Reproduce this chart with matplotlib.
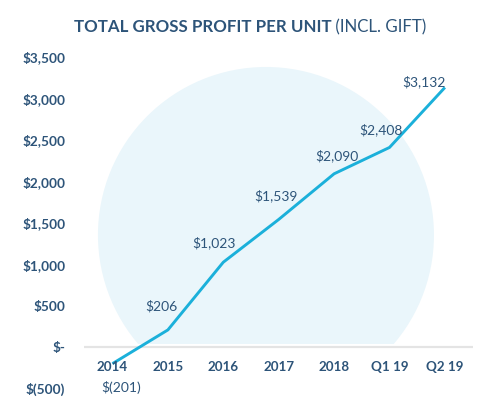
import matplotlib
matplotlib.use("Agg")
import matplotlib.pyplot as plt
from matplotlib.patches import Ellipse, Rectangle
from matplotlib.ticker import FuncFormatter
import matplotlib.transforms as mtransforms

categories = ["2014", "2015", "2016", "2017", "2018", "Q1 19", "Q2 19"]
values = [-201, 206, 1023, 1539, 2090, 2408, 3132]
title_bold = "TOTAL GROSS PROFIT PER UNIT"
title_light = " (INCL. GIFT)"

NAVY = "#2D5479"
LINE = "#1BB0DA"
CIRCLE = "#EAF6FB"
FONT = "Lato"

# label offsets in points (style only)
offsets = [(6, -17), (-5, 17), (-7, 14), (-2, 17), (2, 13), (-6, 13), (-15, 4)]


def money(v, pos=None):
    if v == 0:
        return "$-"
    if v < 0:
        return "$({:,.0f})".format(-v)
    return "${:,.0f}".format(v)


fig = plt.figure(figsize=(5.0, 4.15), dpi=100)
ax = fig.add_axes([0.168, 0.0441, 0.778, 0.8386])
x = list(range(len(categories)))
ax.set_xlim(-0.514, 6.507)
ax.set_ylim(-600, 3600)

# background circle (decoration), clipped at zero line
circ = Ellipse((2.77, 1352), width=6.065, height=4055, facecolor=CIRCLE,
               edgecolor="none", zorder=0)
ax.add_patch(circ)
clip = Rectangle((-1, 40), 10, 5000, transform=ax.transData)
circ.set_clip_path(clip)

ax.axhline(0, color="#E4E4E4", lw=1.6, zorder=1)
ax.plot(x, values, color=LINE, lw=2.1, zorder=3, solid_capstyle="butt")

for xi, v, off in zip(x, values, offsets):
    ax.annotate(money(v), (xi, v), xytext=off, textcoords="offset points",
                ha="center", va="center", color=NAVY, fontsize=10,
                family=FONT, zorder=4)

# category labels
for xi, c in zip(x, categories):
    ax.text(xi, -240, c, ha="center", va="center", color=NAVY, fontsize=9.6,
            fontweight="bold", family=FONT)

ax.yaxis.set_major_formatter(FuncFormatter(money))
ax.set_yticks(range(-500, 3501, 500))
ax.tick_params(axis="y", length=0, pad=13.5, labelcolor=NAVY, labelsize=9.8)
for lbl in ax.get_yticklabels():
    lbl.set_fontweight("bold")
    lbl.set_family(FONT)
ax.set_xticks([])
for s in ax.spines.values():
    s.set_visible(False)
ax.patch.set_alpha(0)

# title: bold part + light part
t1 = fig.text(0.5, 0.935, title_bold, ha="left", va="center", color=NAVY,
              fontsize=12.2, fontweight="bold", family=FONT)
t2 = fig.text(0.5, 0.935, title_light, ha="left", va="center", color=NAVY,
              fontsize=12.2, family=FONT)
fig.canvas.draw()
r = fig.canvas.get_renderer()
w1 = t1.get_window_extent(r).width
w2 = t2.get_window_extent(r).width
left_px = 250 - (w1 + w2) / 2
t1.set_position((left_px / 500, 0.935))
t2.set_position(((left_px + w1) / 500, 0.935))

fig.savefig("out.png", dpi=100)
